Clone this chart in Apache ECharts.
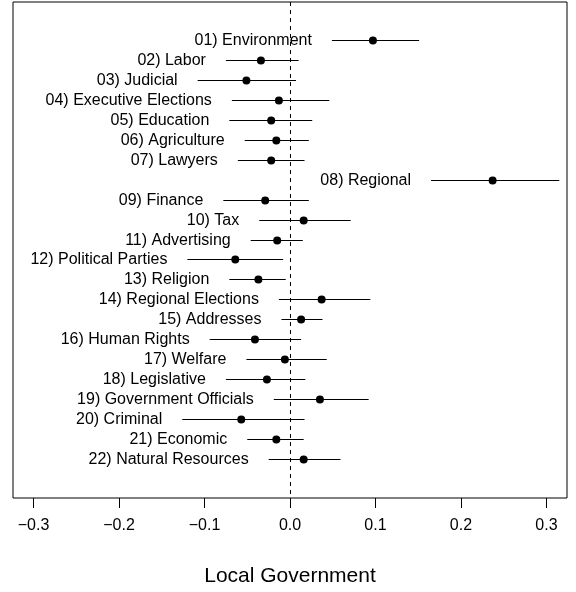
<!DOCTYPE html>
<html>
<head>
<meta charset="utf-8">
<script src="https://cdn.jsdelivr.net/npm/echarts@6/dist/echarts.min.js"></script>
<style>
  html, body { margin: 0; padding: 0; background: #fff; }
  #chart { width: 576px; height: 592px; }
</style>
</head>
<body>
<div id="chart"></div>
<script>
// ==============================
// data
// ==============================
const topics = [
  '01) Environment', '02) Labor', '03) Judicial', '04) Executive Elections',
  '05) Education', '06) Agriculture', '07) Lawyers', '08) Regional',
  '09) Finance', '10) Tax', '11) Advertising', '12) Political Parties',
  '13) Religion', '14) Regional Elections', '15) Addresses', '16) Human Rights',
  '17) Welfare', '18) Legislative', '19) Government Officials', '20) Criminal',
  '21) Economic', '22) Natural Resources'
];
const estimates = [
  0.097, -0.034, -0.051, -0.013, -0.022, -0.016, -0.022, 0.237,
  -0.029, 0.016, -0.015, -0.064, -0.037, 0.037, 0.013, -0.041,
  -0.006, -0.027, 0.035, -0.057, -0.016, 0.016
];
const lower = [
  0.049, -0.075, -0.108, -0.068, -0.071, -0.053, -0.061, 0.165,
  -0.078, -0.036, -0.046, -0.120, -0.071, -0.013, -0.010, -0.094,
  -0.051, -0.075, -0.019, -0.126, -0.050, -0.025
];
const upper = [
  0.151, 0.010, 0.007, 0.046, 0.026, 0.022, 0.017, 0.315,
  0.022, 0.071, 0.015, -0.008, -0.005, 0.094, 0.038, 0.013,
  0.043, 0.018, 0.092, 0.017, 0.016, 0.059
];
const tickValues = [-0.3, -0.2, -0.1, 0.0, 0.1, 0.2, 0.3];

const FONT = '"Liberation Sans", Arial, Helvetica, sans-serif';

// ==============================
// chart
// ==============================
const chart = echarts.init(document.getElementById('chart'));

const rows = topics.map((t, i) => [lower[i], estimates[i], upper[i], i + 1]);

chart.setOption({
  animation: false,
  grid: {
    left: 13, right: 9, top: 2, bottom: 94,
    show: true,
    borderColor: '#000',
    borderWidth: 1
  },
  xAxis: {
    type: 'value',
    position: 'bottom',
    min: -0.324,
    max: 0.324,
    splitLine: { show: false },
    axisLine: { show: false, onZero: false },
    axisTick: {
      show: true,
      length: 10,
      customValues: tickValues,
      lineStyle: { color: '#000', width: 1 }
    },
    axisLabel: {
      customValues: tickValues,
      margin: 20,
      color: '#000',
      fontSize: 16,
      fontFamily: FONT,
      formatter: v => (v < -1e-9 ? '\u2212' : '') + Math.abs(v).toFixed(1)
    },
    name: 'Local Government',
    nameLocation: 'middle',
    nameGap: 68,
    nameTextStyle: { color: '#000', fontSize: 21, fontFamily: FONT }
  },
  yAxis: {
    type: 'value',
    min: -0.92,
    max: 23.92,
    inverse: true,
    show: false
  },
  series: [{
    type: 'custom',
    data: rows,
    encode: { x: [0, 1, 2], y: 3 },
    renderItem: (params, api) => {
      const row = api.value(3);
      const p0 = api.coord([api.value(0), row]);
      const p1 = api.coord([api.value(1), row]);
      const p2 = api.coord([api.value(2), row]);
      const y = Math.floor(p0[1]) + 0.5; // crisp 1px line
      return {
        type: 'group',
        children: [
          {
            type: 'line',
            shape: { x1: p0[0], y1: y, x2: p2[0], y2: y },
            style: { stroke: '#000', lineWidth: 1 }
          },
          {
            type: 'circle',
            shape: { cx: p1[0], cy: y, r: 4 },
            style: { fill: '#000' }
          },
          {
            type: 'text',
            x: p0[0] - 20,
            y: y,
            style: {
              text: topics[params.dataIndex],
              align: 'right',
              verticalAlign: 'middle',
              fill: '#000',
              font: '16px ' + FONT
            }
          }
        ]
      };
    },
    markLine: {
      silent: true,
      symbol: ['none', 'none'],
      label: { show: false },
      lineStyle: { color: '#000', width: 1, type: [4, 4] },
      data: [{ xAxis: 0 }]
    }
  }]
});
</script>
</body>
</html>
